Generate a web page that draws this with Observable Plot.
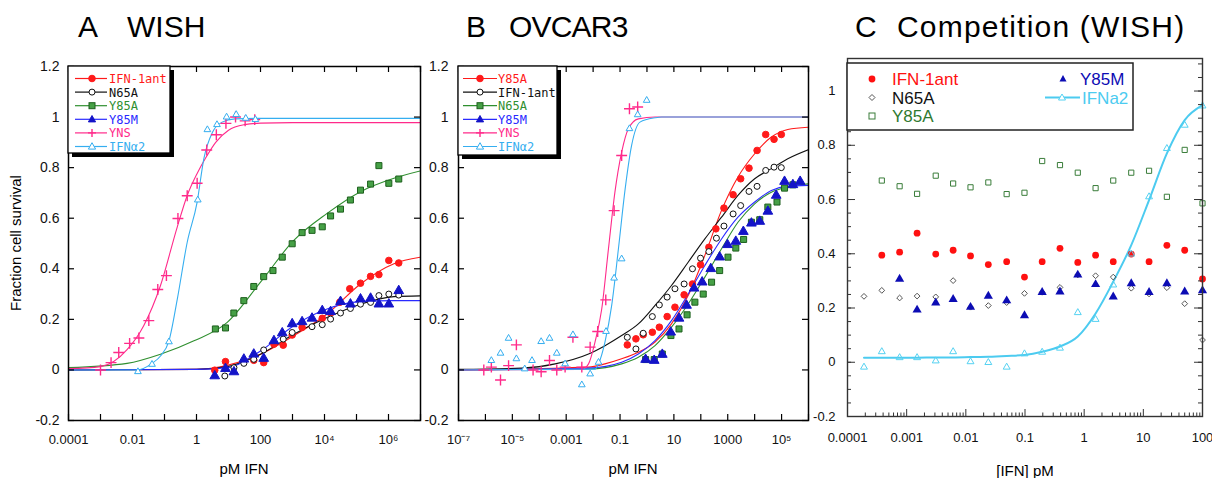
<!DOCTYPE html>
<html><head><meta charset="utf-8">
<script src="https://cdn.jsdelivr.net/npm/d3@7"></script>
<script src="https://cdn.jsdelivr.net/npm/@observablehq/plot@0.6"></script>
<style>
body{margin:0;background:#fff;}
#wrap{position:relative;width:1212px;height:478px;overflow:hidden;background:#fff;}
</style></head>
<body><div id="wrap"></div>
<script>
// ---------- DATA (x as log10 pM, y = fraction cell survival) ----------
// Panel A (WISH)
const aIFN1antPts = [[0.57,-0.001],[0.906,0.033],[1.79,0.038],[2.10,0.029],[2.42,0.102],[2.71,0.098],[2.99,0.138],[3.30,0.168],[3.93,0.204],[4.19,0.225],[4.48,0.268],[4.79,0.321],[5.125,0.343],[5.44,0.37],[5.70,0.377],[6.01,0.433],[6.32,0.423]];
const aIFN1antFit = [[-4,0],[0,0.002],[0.96,0.018],[2.0,0.062],[3.04,0.135],[4.08,0.221],[5.125,0.34],[6.17,0.42],[7,0.446]];
const aN65APts = [[0.885,-0.024],[1.17,0.009],[1.48,0.026],[1.79,0.042],[2.10,0.079],[2.71,0.122],[2.99,0.148],[3.61,0.171],[3.93,0.179],[4.19,0.201],[4.50,0.225],[4.81,0.243],[5.125,0.26],[5.44,0.267],[5.70,0.294],[6.01,0.3],[6.32,0.296]];
const aN65AFit = [[-4,0],[0,0.002],[0.96,0.013],[2.0,0.062],[3.04,0.141],[4.08,0.207],[5.125,0.26],[6.17,0.29],[7,0.293]];
const aY85APts = [[0.59,0.162],[0.906,0.166],[1.167,0.225],[1.479,0.274],[1.79,0.33],[2.10,0.369],[2.39,0.393],[2.68,0.446],[2.99,0.499],[3.30,0.543],[3.61,0.552],[3.93,0.566],[4.19,0.609],[4.50,0.636],[4.81,0.672],[5.125,0.711],[5.44,0.735],[5.70,0.808],[6.01,0.738],[6.32,0.755]];
const aY85AFit = [[-4,0.009],[-2.17,0.026],[-1.125,0.062],[-0.08,0.115],[0.96,0.188],[2.0,0.347],[3.04,0.512],[4.08,0.619],[5.125,0.705],[6.17,0.758],[7,0.787]];
const aY85MPts = [[0.57,-0.024],[0.906,0.005],[1.17,-0.008],[1.48,0.042],[1.79,0.062],[2.10,0.045],[2.42,0.115],[2.68,0.146],[2.99,0.182],[3.30,0.19],[3.61,0.204],[3.93,0.234],[4.19,0.23],[4.50,0.27],[4.81,0.26],[5.125,0.28],[5.44,0.283],[5.70,0.26],[6.01,0.26],[6.32,0.313]];
const aY85MFit = [[-4,0],[0,0.002],[0.96,0.009],[2.0,0.075],[3.04,0.175],[4.08,0.241],[5.125,0.27],[6.17,0.274],[7,0.274]];
const aYNSPts = [[-3.0,0.0],[-2.67,0.029],[-2.43,0.069],[-2.09,0.105],[-1.80,0.126],[-1.49,0.195],[-1.21,0.318],[-0.94,0.373],[-0.58,0.599],[-0.29,0.689],[0.02,0.738],[0.32,0.87],[0.62,0.93],[0.92,0.975],[1.22,1.0],[1.52,0.985],[1.82,0.99]];
const aYNSFit = [[-4,0.005],[-3.0,0.013],[-2.17,0.08],[-1.65,0.175],[-1.125,0.334],[-0.6,0.566],[-0.29,0.69],[0.02,0.777],[0.28,0.837],[0.6,0.9],[1.0,0.948],[1.5,0.97],[2,0.976],[3,0.978],[7,0.978]];
const aIFNa2Pts = [[-1.83,-0.007],[-1.39,0.022],[-0.86,0.111],[0.04,0.672],[0.34,0.95],[0.64,0.97],[0.94,1.0],[1.24,1.01],[1.54,0.995],[1.84,0.99]];
const aIFNa2Fit = [[-4,0],[-1.85,0.0],[-1.39,0.026],[-1.125,0.055],[-0.86,0.115],[-0.6,0.28],[-0.29,0.505],[0.02,0.664],[0.23,0.836],[0.5,0.94],[0.8,0.98],[1.2,0.993],[2,0.995],[7,0.995]];

// Panel B (OVCAR3)
const bY85APts = [[-0.73,0.099],[-0.41,0.123],[-0.14,0.139],[0.2,0.149],[0.46,0.169],[0.75,0.211],[1.04,0.248],[1.38,0.297],[1.69,0.34],[1.99,0.416],[2.30,0.485],[2.56,0.558],[2.86,0.64],[3.20,0.693],[3.48,0.756],[3.79,0.798],[4.09,0.868],[4.41,0.931],[4.72,0.912],[4.99,0.931]];
const bY85AFit = [[-7,0],[-2.17,0.011],[-1.56,0.024],[-0.94,0.044],[-0.32,0.07],[0.3,0.11],[0.91,0.182],[1.53,0.294],[2.15,0.453],[2.77,0.631],[3.38,0.763],[4.0,0.855],[4.62,0.921],[5.23,0.951],[6,0.96]];
const bIFN1antPts = [[-0.73,0.129],[-0.41,0.083],[-0.14,0.145],[0.2,0.211],[0.46,0.257],[0.75,0.288],[1.04,0.321],[1.38,0.34],[1.69,0.40],[1.99,0.442],[2.30,0.468],[2.58,0.521],[2.86,0.569],[3.20,0.617],[3.48,0.65],[3.79,0.706],[4.09,0.726],[4.41,0.789],[4.72,0.802],[4.99,0.80]];
const bIFN1antFit = [[-7,0.002],[-4.64,0.007],[-3.41,0.024],[-2.17,0.063],[-1.56,0.096],[-0.94,0.136],[-0.32,0.182],[0.3,0.255],[0.91,0.334],[1.53,0.426],[2.15,0.518],[2.77,0.604],[3.38,0.69],[4.0,0.756],[4.62,0.796],[5.23,0.835],[6,0.871]];
const bN65APts = [[-0.05,0.041],[0.27,0.041],[0.57,0.063],[0.89,0.136],[1.19,0.162],[1.49,0.218],[1.78,0.268],[2.09,0.30],[2.40,0.347],[2.70,0.393],[3.01,0.446],[3.30,0.482],[3.59,0.516],[3.88,0.584],[4.19,0.594],[4.49,0.644],[4.83,0.664],[5.11,0.719],[5.42,0.732]];
const bN65AFit = [[-7,0],[-2.17,0.004],[-0.94,0.024],[-0.32,0.05],[0.3,0.096],[0.91,0.169],[1.53,0.261],[2.15,0.367],[2.77,0.479],[3.38,0.584],[4.0,0.657],[4.62,0.703],[5.23,0.723],[6,0.736]];
const bY85MPts = [[-0.05,0.041],[0.27,0.037],[0.57,0.061],[0.88,0.149],[1.19,0.204],[1.47,0.255],[1.75,0.323],[2.05,0.347],[2.37,0.40],[2.70,0.446],[2.99,0.495],[3.30,0.508],[3.58,0.547],[3.88,0.58],[4.19,0.587],[4.49,0.627],[4.80,0.69],[5.11,0.745],[5.42,0.732],[5.69,0.745]];
const bY85MFit = [[-7,0],[-2.17,0.007],[-0.94,0.03],[-0.32,0.063],[0.3,0.116],[0.91,0.195],[1.53,0.30],[2.15,0.413],[2.77,0.518],[3.38,0.604],[4.0,0.664],[4.62,0.71],[5.23,0.727],[6,0.73]];
const bYNSPts = [[-6.06,0.0],[-5.78,0.011],[-5.44,-0.04],[-5.14,0.017],[-4.85,0.099],[-4.23,0.0],[-3.93,-0.007],[-3.62,0.037],[-3.35,0.0],[-3.04,0.011],[-2.75,0.129],[-2.42,0.011],[-2.11,0.09],[-1.83,0.152],[-1.53,0.277],[-1.22,0.63],[-0.94,0.848],[-0.65,1.033],[-0.345,1.04]];
const bYNSFit = [[-7,0],[-2.42,0.002],[-2.17,0.024],[-1.93,0.11],[-1.68,0.241],[-1.43,0.479],[-1.19,0.703],[-0.94,0.861],[-0.69,0.954],[-0.32,0.993],[0.3,1.0],[6,1.0]];
const bIFNa2Pts = [[-5.78,0.037],[-5.44,0.066],[-5.14,0.125],[-4.85,0.044],[-4.54,0.004],[-4.27,0.037],[-3.93,0.112],[-3.62,0.125],[-3.35,0.066],[-3.04,0.024],[-2.75,0.139],[-2.42,-0.059],[-2.11,-0.016],[-1.80,0.03],[-1.52,0.152],[-1.22,0.363],[-0.94,0.439],[-0.65,0.954],[-0.345,1.009],[-0.01,1.066]];
const bIFNa2Fit = [[-7,0],[-1.93,0.003],[-1.80,0.024],[-1.56,0.11],[-1.31,0.255],[-1.06,0.479],[-0.81,0.716],[-0.57,0.888],[-0.26,0.98],[0.3,0.997],[0.54,1.0],[6,1.0]];

// Panel C (Competition, WISH) - dose in pM
const cDose = [0.00019,0.00038,0.00076,0.0015,0.0031,0.0061,0.012,0.024,0.049,0.098,0.195,0.39,0.78,1.56,3.1,6.25,12.5,25,50,100];
const cIFN1ant = [null,0.395,0.406,0.476,0.399,0.413,0.392,0.360,0.371,0.314,0.371,0.420,0.368,0.395,0.371,0.399,0.371,0.431,0.413,0.307];
const cN65A = [0.243,0.265,0.237,0.244,0.241,0.301,0.203,0.209,0.220,0.254,0.258,0.276,0.322,0.319,0.314,0.273,0.252,0.275,0.216,0.082];
const cY85A = [null,0.670,0.649,0.621,0.688,0.659,0.645,0.663,0.620,0.625,0.742,0.727,0.699,0.642,0.670,0.699,0.706,0.610,0.783,0.586];
const cY85M = [null,null,0.307,0.193,0.219,0.232,0.203,0.244,0.227,0.172,0.258,0.260,0.322,0.287,0.241,0.290,0.258,0.290,0.260,0.264];
const cIFNa2 = [-0.018,0.039,0.017,0.017,0.005,0.039,0.002,-0.001,-0.018,0.031,0.037,0.052,0.183,0.158,0.285,0.399,0.610,0.788,0.874,0.945];
const cIFNa2Fit = [0.017,0.017,0.017,0.017,0.018,0.018,0.019,0.020,0.023,0.027,0.039,0.058,0.095,0.18,0.297,0.432,0.598,0.77,0.893,0.948];

// ---------- TICKS ----------
const aDecades = [1e-4,1e-3,1e-2,1e-1,1,10,100,1e3,1e4,1e5,1e6,1e7];
const aTickVals = [1e-4,1e-2,1,100,1e4,1e6];
const aTickLabels = ["0.0001","0.01","1","100","10⁴","10⁶"];
const bDecades = [1e-7,1e-6,1e-5,1e-4,1e-3,1e-2,1e-1,1,10,100,1e3,1e4,1e5,1e6];
const bTickVals = [1e-7,1e-5,1e-3,1e-1,10,1e3,1e5];
const bTickLabels = ["10⁻⁷","10⁻⁵","0.001","0.1","10","1000","10⁵"];
const abYVals = [-0.2,0,0.2,0.4,0.6,0.8,1,1.2];
const abYLabels = ["-0.2","0","0.2","0.4","0.6","0.8","1","1.2"];
const cDecades = [1e-4,1e-3,1e-2,1e-1,1,10,100];
const cTickLabels = ["0.0001","0.001","0.01","0.1","1","10","100"];
const cYVals = [-0.2,0,0.2,0.4,0.6,0.8,1];
const cYLabels = ["-0.2","0","0.2","0.4","0.6","0.8","1"];

// ---------- STYLE ----------
const H = 478;
const tickFont = "'Liberation Sans Narrow','Liberation Sans',Arial,sans-serif";
const S = {
  red:{line:"#ff1a1a", fill:"#ff1a1a", stroke:"#ff1a1a", symbol:"circle", r:3.3},
  black:{line:"#111", fill:"white", stroke:"#111", symbol:"circle", r:3.0},
  green:{line:"#2f8f2f", fill:"#46a046", stroke:"#1d5f1d", symbol:"square", r:3.4},
  blue:{line:"#2a2aff", fill:"#1414c8", stroke:"#1414c8", symbol:"triangle", r:3.6},
  pink:{line:"#ff2a8a", fill:"none", stroke:"#ff2a8a", symbol:"plus", r:3.6},
  cyan:{line:"#35aef0", fill:"white", stroke:"#35aef0", symbol:"triangle2", r:3.2}
};
const seriesA = [
  [aY85AFit,aY85APts,S.green],[aIFN1antFit,aIFN1antPts,S.red],[aN65AFit,aN65APts,S.black],
  [aY85MFit,aY85MPts,S.blue],[aYNSFit,aYNSPts,S.pink],[aIFNa2Fit,aIFNa2Pts,S.cyan]
];
const seriesB = [
  [bN65AFit,bN65APts,S.green],[bY85AFit,bY85APts,S.red],[bIFN1antFit,bIFN1antPts,S.black],
  [bY85MFit,bY85MPts,S.blue],[bYNSFit,bYNSPts,S.pink],[bIFNa2Fit,bIFNa2Pts,S.cyan]
];

const wrap = document.getElementById("wrap");
const toXY = arr => arr.map(([lx,y]) => ({x: 10 ** lx, y}));

function place(svg, left) {
  svg.style.position = "absolute";
  svg.style.left = left + "px";
  svg.style.top = "0px";
  svg.style.maxWidth = "none";
  svg.style.background = "transparent";
  wrap.appendChild(svg);
}

function panelAB({left, width, ml, mr, xDomain, series, decades, tickVals, tickLabels, ydx}) {
  const mt = 66, mb = 58;
  const pw = width - ml - mr, ph = H - mt - mb;
  const marks = [];
  for (const [fit, , st] of series)
    marks.push(Plot.line(toXY(fit), {x:"x", y:"y", stroke:st.line, strokeWidth:1.1, curve:"monotone-x", clip:true}));
  for (const [, pts, st] of series)
    marks.push(Plot.dot(toXY(pts), {x:"x", y:"y", symbol:st.symbol, r:st.r, fill:st.fill, stroke:st.stroke, strokeWidth: st.symbol==="plus" ? 1.4 : 1}));
  marks.push(
    Plot.frame({stroke:"#000", strokeWidth:1.5}),
    Plot.ruleX(decades, {x:d=>d, insetTop:ph-6, stroke:"#000", strokeWidth:1.2}),
    Plot.ruleX(decades, {x:d=>d, insetBottom:ph-6, stroke:"#000", strokeWidth:1.2}),
    Plot.ruleY(abYVals, {y:d=>d, insetRight:pw-6, stroke:"#000", strokeWidth:1.2}),
    Plot.ruleY(abYVals, {y:d=>d, insetLeft:pw-6, stroke:"#000", strokeWidth:1.2}),
    Plot.text(tickVals.map((v,i)=>({v, t:tickLabels[i]})), {x:"v", text:"t", frameAnchor:"bottom", lineAnchor:"middle", dy:19, fontSize:13, fontFamily:tickFont, fill:"#111"}),
    Plot.text(abYVals.map((v,i)=>({v, t:abYLabels[i]})), {y:"v", text:"t", frameAnchor:"left", textAnchor:"end", dx:ydx, fontSize:14, fontFamily:"'Liberation Sans',Arial,sans-serif", fill:"#111"})
  );
  const svg = Plot.plot({
    width, height:H, marginLeft:ml, marginRight:mr, marginTop:mt, marginBottom:mb,
    x:{type:"log", domain:xDomain, axis:null}, y:{domain:[-0.2,1.2], axis:null},
    style:{background:"transparent", overflow:"visible"}, marks
  });
  place(svg, left);
}

panelAB({left:0, width:440, ml:68, mr:20, xDomain:[1e-4,1e7], series:seriesA, decades:aDecades, tickVals:aTickVals, tickLabels:aTickLabels, ydx:-9});
panelAB({left:420, width:400, ml:38, mr:12, xDomain:[1e-7,1e6], series:seriesB, decades:bDecades, tickVals:bTickVals, tickLabels:bTickLabels, ydx:-10});

// Panel C
(function(){
  const left = 800, width = 412, ml = 47, mr = 10, mt = 58, mb = 62;
  const pw = width - ml - mr, ph = H - mt - mb;
  const rows = cDose.map((x,i)=>({x, ifn1:cIFN1ant[i], n65:cN65A[i], y85a:cY85A[i], y85m:cY85M[i], a2:cIFNa2[i], fit:cIFNa2Fit[i]}));
  const has = k => rows.filter(r => r[k] != null);
  const minorX = cDecades.slice(0,-1).flatMap(d => [2,3,4,5,6,7,8,9].map(k => d*k));
  const minorY = d3.range(-0.2, 1.1001, 0.05).map(v => +v.toFixed(2));
  const svg = Plot.plot({
    width, height:H, marginLeft:ml, marginRight:mr, marginTop:mt, marginBottom:mb,
    x:{type:"log", domain:[1e-4,100], axis:null}, y:{domain:[-0.2,1.12], axis:null},
    style:{background:"transparent", overflow:"visible"},
    marks:[
      Plot.line(rows, {x:"x", y:"fit", stroke:"#4ccbf0", strokeWidth:2, curve:"monotone-x"}),
      Plot.dot(has("y85a"), {x:"x", y:"y85a", symbol:"square2", r:3.3, stroke:"#3a7d3a", strokeWidth:1, fill:"none"}),
      Plot.dot(has("n65"), {x:"x", y:"n65", symbol:"diamond2", r:2.6, stroke:"#555", strokeWidth:1, fill:"none"}),
      Plot.dot(has("ifn1"), {x:"x", y:"ifn1", symbol:"circle", r:3.4, fill:"#ff1010"}),
      Plot.dot(has("y85m"), {x:"x", y:"y85m", symbol:"triangle", r:3.4, fill:"#0c0cb4"}),
      Plot.dot(has("a2"), {x:"x", y:"a2", symbol:"triangle2", r:3.3, stroke:"#55d2f2", strokeWidth:1, fill:"none"}),
      Plot.frame({stroke:"#333", strokeWidth:1.4}),
      Plot.ruleX(cDecades, {x:d=>d, insetTop:ph-7, stroke:"#333"}),
      Plot.ruleX(minorX, {x:d=>d, insetTop:ph-3.5, stroke:"#333"}),
      Plot.ruleY(minorY, {y:d=>d, insetRight:pw-4, stroke:"#333"}),
      Plot.ruleY(minorY, {y:d=>d, insetLeft:pw-4, stroke:"#333"}),
      Plot.ruleY(cYVals, {y:d=>d, insetRight:pw-8, stroke:"#333"}),
      Plot.ruleY(cYVals, {y:d=>d, insetLeft:pw-8, stroke:"#333"}),
      Plot.text(cDecades.map((v,i)=>({v, t:cTickLabels[i]})), {x:"v", text:"t", frameAnchor:"bottom", lineAnchor:"middle", dy:21, fontSize:13, fontFamily:tickFont, fill:"#111"}),
      Plot.text(cYVals.map((v,i)=>({v, t:cYLabels[i]})), {y:"v", text:"t", frameAnchor:"left", textAnchor:"end", dx:-12, fontSize:13, fontFamily:tickFont, fill:"#111"})
    ]
  });
  place(svg, left);
})();

// ---------- overlay: titles, axis titles, legends ----------
const ov = d3.create("svg").attr("width",1212).attr("height",H)
  .style("position","absolute").style("left","0px").style("top","0px")
  .style("font-family","'Liberation Sans',Arial,sans-serif");
function txt(x,y,s,opts={}) {
  const t = ov.append("text").attr("x",x).attr("y",y).text(s)
    .attr("font-size",opts.size||15).attr("fill",opts.fill||"#000")
    .attr("text-anchor",opts.anchor||"start");
  if (opts.spacing) t.attr("letter-spacing",opts.spacing);
  if (opts.rotate) t.attr("transform",`rotate(-90,${x},${y})`);
  return t;
}
txt(78,37,"A",{size:30}); txt(127,37,"WISH",{size:30});
txt(466,37,"B",{size:30}); txt(509,37,"OVCAR3",{size:30,spacing:-0.8});
txt(855,37,"C",{size:30}); txt(897,37,"Competition (WISH)",{size:30,spacing:1.2});
txt(244,474,"pM IFN",{anchor:"middle",size:15});
txt(633,474,"pM IFN",{anchor:"middle",size:15});
txt(1025,476,"[IFN] pM",{anchor:"middle",size:15});
txt(21,243,"Fraction cell survival",{anchor:"middle",size:15,rotate:true});

function marker(g, cx, cy, kind, st) {
  if (kind==="circle") g.append("circle").attr("cx",cx).attr("cy",cy).attr("r",st.r).attr("fill",st.fill).attr("stroke",st.stroke).attr("stroke-width",1);
  else if (kind==="square") g.append("rect").attr("x",cx-3).attr("y",cy-3).attr("width",6).attr("height",6).attr("fill",st.fill).attr("stroke",st.stroke);
  else if (kind==="triangle"||kind==="triangle2") g.append("path").attr("d",`M${cx},${cy-3.8}L${cx+3.6},${cy+2.6}L${cx-3.6},${cy+2.6}Z`).attr("fill",st.fill).attr("stroke",st.stroke).attr("stroke-width",1);
  else if (kind==="plus") g.append("path").attr("d",`M${cx-4},${cy}h8M${cx},${cy-4}v8`).attr("stroke",st.stroke).attr("stroke-width",1.4);
}
function legendAB(x0,y0,w,h,entries,l1,l2,mx,tx) {
  const g = ov.append("g");
  g.append("rect").attr("x",x0+4).attr("y",y0+4).attr("width",w).attr("height",h).attr("fill","#000");
  g.append("rect").attr("x",x0).attr("y",y0).attr("width",w).attr("height",h).attr("fill","#fff").attr("stroke","#000").attr("stroke-width",1.3);
  entries.forEach(([label,st],i) => {
    const y = y0 + 12.5 + i*13.6;
    g.append("line").attr("x1",l1).attr("x2",l2).attr("y1",y).attr("y2",y).attr("stroke",st.line).attr("stroke-width",1.2);
    marker(g, mx, y, st.symbol, st);
    g.append("text").attr("x",tx).attr("y",y+4.5).text(label).attr("fill",st.line)
      .attr("font-family","'DejaVu Sans Mono',monospace").attr("font-size",12);
  });
}
legendAB(68,66,102,87,[["IFN-1ant",S.red],["N65A",S.black],["Y85A",S.green],["Y85M",S.blue],["YNS",S.pink],["IFNα2",S.cyan]],75,107,92,109);
legendAB(458,66,99,89,[["Y85A",S.red],["IFN-1ant",S.black],["N65A",S.green],["Y85M",S.blue],["YNS",S.pink],["IFNα2",S.cyan]],463,497,480,498);

// Legend C
(function(){
  const g = ov.append("g");
  g.append("rect").attr("x",847).attr("y",63).attr("width",286).attr("height",67).attr("fill","#fff").attr("stroke","#222").attr("stroke-width",1.5);
  g.append("circle").attr("cx",872).attr("cy",79).attr("r",3.4).attr("fill","#ff1010");
  g.append("text").attr("x",892).attr("y",85).text("IFN-1ant").attr("fill","#ff1010").attr("font-size",17);
  g.append("path").attr("d","M872,94.5L875,97.5L872,100.5L869,97.5Z").attr("fill","none").attr("stroke","#555");
  g.append("text").attr("x",892).attr("y",104).text("N65A").attr("fill","#111").attr("font-size",17);
  g.append("rect").attr("x",869).attr("y",113).attr("width",6).attr("height",6).attr("fill","none").attr("stroke","#3a7d3a");
  g.append("text").attr("x",892).attr("y",122).text("Y85A").attr("fill","#2f7a2f").attr("font-size",17);
  g.append("path").attr("d","M1063,75L1066.5,81.5L1059.5,81.5Z").attr("fill","#0c0cb4");
  g.append("text").attr("x",1080).attr("y",85).text("Y85M").attr("fill","#0c0cb4").attr("font-size",17);
  g.append("line").attr("x1",1045).attr("x2",1080).attr("y1",97.5).attr("y2",97.5).attr("stroke","#4ccbf0").attr("stroke-width",2);
  g.append("path").attr("d","M1062,94L1065.5,100L1058.5,100Z").attr("fill","#fff").attr("stroke","#55d2f2");
  g.append("text").attr("x",1082).attr("y",104).text("IFNa2").attr("fill","#4ccbf0").attr("font-size",17);
})();
wrap.appendChild(ov.node());
</script>
</body></html>
